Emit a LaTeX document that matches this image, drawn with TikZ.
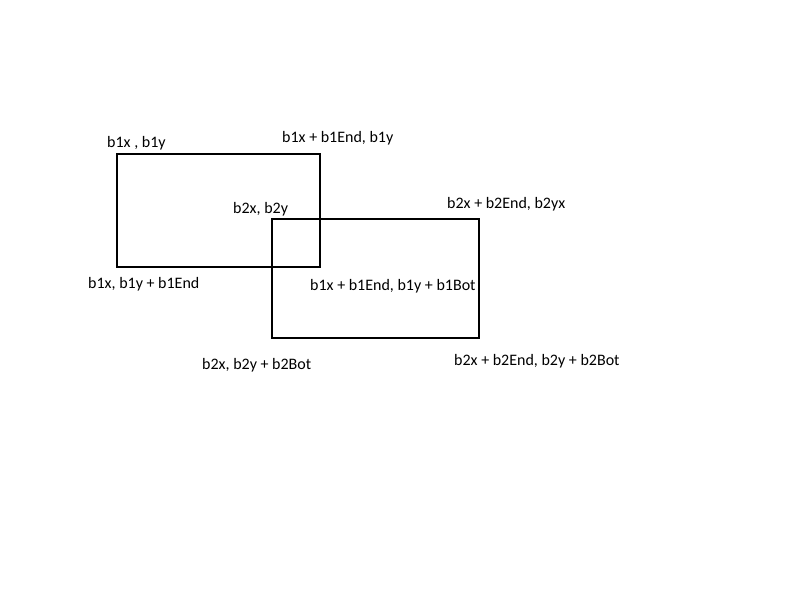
\documentclass[tikz,border=0pt]{standalone}
\usepackage{fontspec}
\setmainfont{Carlito}
\begin{document}
\begin{tikzpicture}[x=1pt,y=-1pt,
  lbl/.style={anchor=base west,inner sep=0pt,font=\fontsize{16}{19}\selectfont},
  box/.style={draw=black,line width=2pt}]
\useasboundingbox[fill=white] (0,0) rectangle (800,600);
\draw[box] (117,154) rectangle (320,267);
\draw[box] (272,219) rectangle (479,338);
\node[lbl] (t1) at (107,147) {b1x , b1y};
\node[lbl] (t2) at (282,142) {b1x + b1End, b1y};
\node[lbl] (t3) at (233,213) {b2x, b2y};
\node[lbl] (t4) at (447,208) {b2x + b2End, b2yx};
\node[lbl] (t5) at (88,288) {b1x, b1y + b1End};
\node[lbl] (t6) at (310,290) {b1x + b1End, b1y + b1Bot};
\node[lbl] (t7) at (202,369) {b2x, b2y + b2Bot};
\node[lbl] (t8) at (454,365) {b2x + b2End, b2y + b2Bot};
\end{tikzpicture}
\end{document}
